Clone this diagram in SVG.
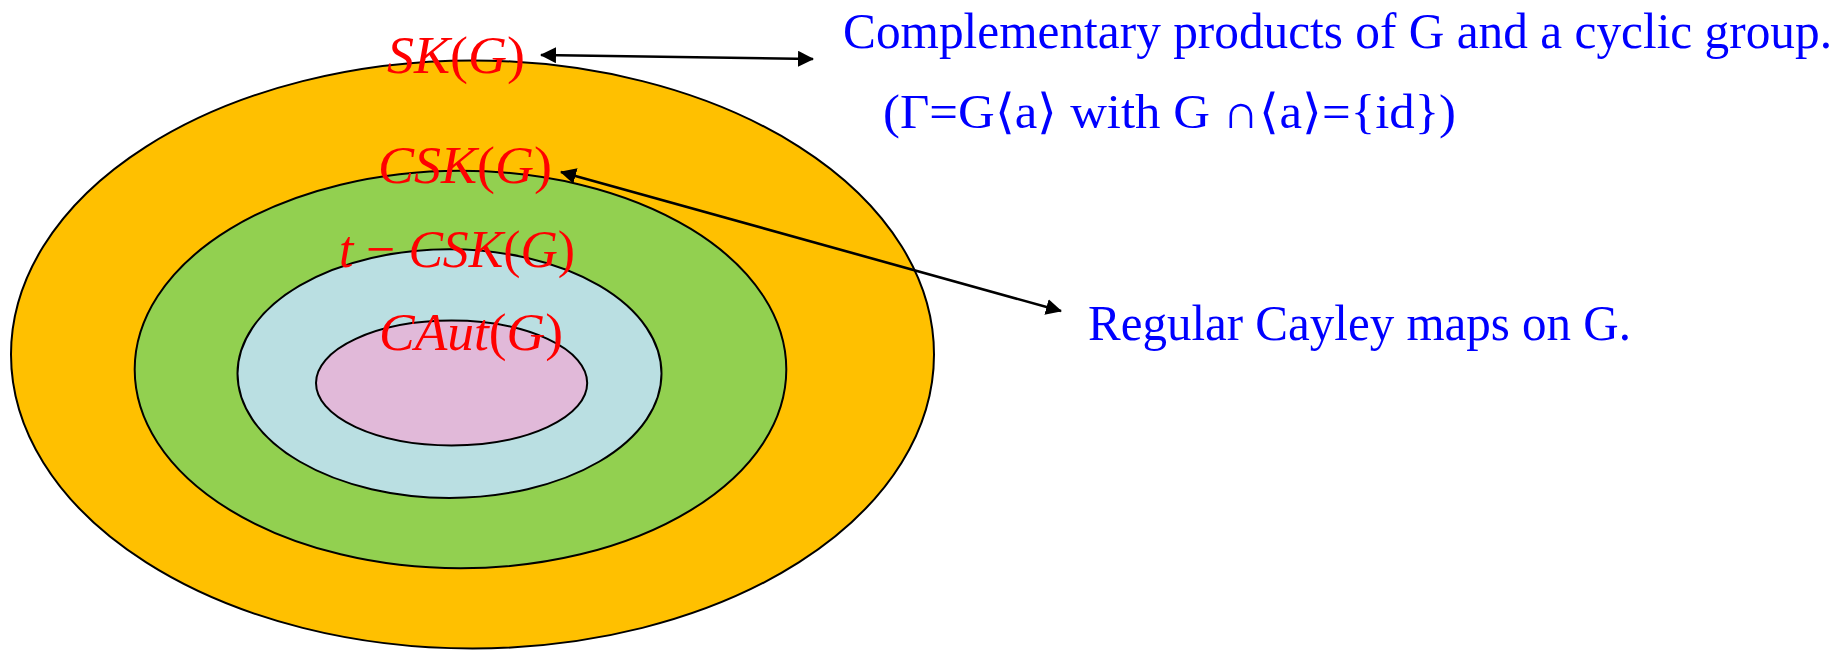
<svg xmlns="http://www.w3.org/2000/svg" width="1841" height="651" viewBox="0 0 1841 651">
<style>
.ell{stroke:#000;stroke-width:2}
.lbl{font-family:"Liberation Serif",serif;font-size:53px;fill:#FF0000}
.it{font-style:italic}
.txt{font-family:"Liberation Serif",serif;font-size:50px;fill:#0000FF}
.conn{stroke:#000;stroke-width:2.6;fill:none}
</style>
<defs>
<marker id="ah" markerUnits="userSpaceOnUse" markerWidth="16" markerHeight="16" viewBox="0 0 16 16" refX="15" refY="8" orient="auto-start-reverse">
<path d="M0,0 L16,8 L0,16 Z" fill="#000"/>
</marker>
</defs>
<rect width="1841" height="651" fill="#fff"/>
<g id="sk"><ellipse class="ell" cx="472.5" cy="354.5" rx="461.5" ry="294" fill="#FFC000"/></g>
<g id="csk"><ellipse class="ell" cx="460.5" cy="369.5" rx="325.8" ry="198.8" fill="#92D050"/></g>
<g id="tcsk"><ellipse class="ell" cx="449.5" cy="373.6" rx="212" ry="124.3" fill="#BADFE2"/></g>
<g id="caut"><ellipse class="ell" cx="451.6" cy="383" rx="135.6" ry="62.4" fill="#E1B9D9"/></g>
<g id="labels">
<text class="lbl" x="387" y="73" textLength="138" lengthAdjust="spacingAndGlyphs"><tspan class="it">SK</tspan>(<tspan class="it">G</tspan>)</text>
<text class="lbl" x="378" y="183" textLength="174" lengthAdjust="spacingAndGlyphs"><tspan class="it">CSK</tspan>(<tspan class="it">G</tspan>)</text>
<text class="lbl" x="339" y="267" textLength="236" lengthAdjust="spacingAndGlyphs"><tspan class="it">t</tspan> − <tspan class="it">CSK</tspan>(<tspan class="it">G</tspan>)</text>
<text class="lbl" x="379" y="350" textLength="184" lengthAdjust="spacingAndGlyphs"><tspan class="it">CAut</tspan>(<tspan class="it">G</tspan>)</text>
</g>
<g id="notes">
<text class="txt" x="843" y="48" style="font-size:51px" textLength="989" lengthAdjust="spacingAndGlyphs">Complementary products of G and a cyclic group.</text>
<text class="txt" x="883" y="128" style="font-size:48px" textLength="573" lengthAdjust="spacingAndGlyphs">(Γ=G⟨a⟩ with G ∩⟨a⟩={id})</text>
<text class="txt" x="1088" y="340" textLength="543" lengthAdjust="spacingAndGlyphs">Regular Cayley maps on G.</text>
</g>
<g id="connectors">
<line class="conn" x1="541" y1="55" x2="813" y2="59" marker-start="url(#ah)" marker-end="url(#ah)"/>
<line class="conn" x1="561" y1="172" x2="1061" y2="311" marker-start="url(#ah)" marker-end="url(#ah)"/>
</g>
</svg>
